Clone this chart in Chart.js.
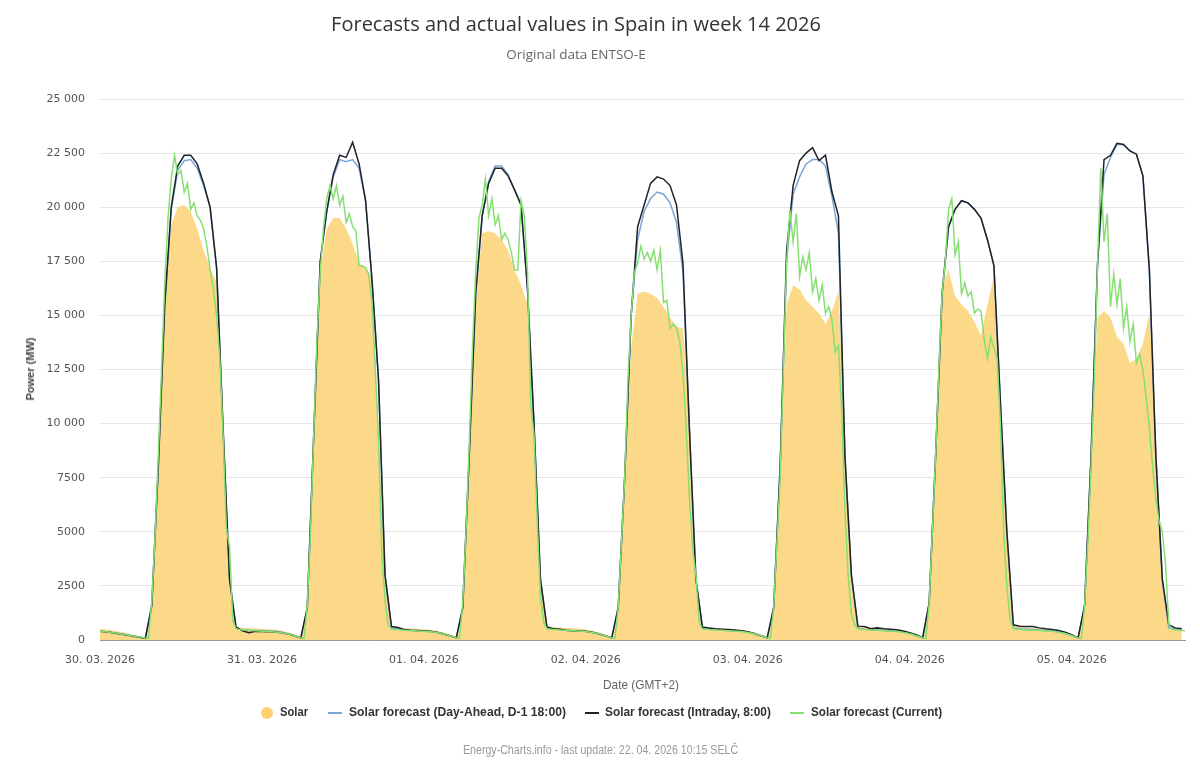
<!DOCTYPE html>
<html>
<head>
<meta charset="utf-8">
<title>Forecasts and actual values in Spain in week 14 2026</title>
<script src="https://cdn.jsdelivr.net/npm/chart.js@4.4.1/dist/chart.umd.min.js"></script>
<style>
  html, body { margin: 0; padding: 0; background: #fff; }
  #wrap { position: relative; width: 1200px; height: 766px; overflow: hidden; }
  #chart { position: absolute; left: 0; top: 0; }
  .txt { position: absolute; white-space: nowrap; }
  #title { left: 576px; top: 10px; transform: translateX(-50%); font: 20px "Open Sans", sans-serif; color: #333; }
  #subtitle { left: 576px; top: 45px; transform: translateX(-50%); font: 13.5px "Open Sans", sans-serif; color: #666; }
  #ytitle { left: 30px; top: 369px; transform: translate(-50%, -50%) rotate(-90deg); font: bold 11px "Liberation Sans", sans-serif; color: #444; }
  #xtitle { left: 603px; top: 677px; font: 13px "Liberation Sans", sans-serif; color: #666; transform-origin: 0 0; }
  .leg { position: absolute; top: 705px; height: 16px; line-height: 16px; font: bold 12.5px "Liberation Sans", sans-serif; color: #333; white-space: nowrap; transform-origin: 0 0; }
  .dot { position: absolute; top: 707px; width: 12px; height: 12px; border-radius: 6px; }
  .bar { position: absolute; top: 712px; width: 14px; height: 2px; }
  #credits { left: 463px; top: 743px; font: 12px "Liberation Sans", sans-serif; color: #999; transform-origin: 0 0; }
</style>
</head>
<body>
<div id="wrap">
  <canvas id="chart" width="1200" height="766"></canvas>
  <div class="txt" id="title">Forecasts and actual values in Spain in week 14 2026</div>
  <div class="txt" id="subtitle">Original data ENTSO-E</div>
  <div class="txt" id="ytitle">Power (MW)</div>
  <div class="txt fit" id="xtitle" data-w="76">Date (GMT+2)</div>

  <div class="dot" style="left:261px;background:#fcd26f"></div>
  <div class="leg fit" style="left:280px" data-w="28">Solar</div>
  <div class="bar" style="left:328px;background:#7aa6d8"></div>
  <div class="leg fit" style="left:349px" data-w="217">Solar forecast (Day-Ahead, D-1 18:00)</div>
  <div class="bar" style="left:585px;background:#1f2328"></div>
  <div class="leg fit" style="left:605px" data-w="166">Solar forecast (Intraday, 8:00)</div>
  <div class="bar" style="left:790px;background:#86df72"></div>
  <div class="leg fit" style="left:811px" data-w="131">Solar forecast (Current)</div>

  <div class="txt fit" id="credits" data-w="275">Energy-Charts.info - last update: 22. 04. 2026 10:15 SELČ</div>
</div>
<script>
// x positions are hours from 30.03.2026 00:00 (GMT+2)
const dayLabels = ['30. 03. 2026', '31. 03. 2026', '01. 04. 2026', '02. 04. 2026', '03. 04. 2026', '04. 04. 2026', '05. 04. 2026'];
const tickHours = [0, 25, 50, 75, 100, 125, 150];

// actual solar generation, hourly (MW)
const solar = [
  500,490,440,380,320,250,180,100, 1600,8000,16500,19200,20000,20100,19800,19000,18000,17200,16500,10000,2800,600,560,540,
  530,520,500,480,440,360,260,120, 1500,9000,17000,19000,19500,19500,19000,18300,17400,17200,16700,9500,2800,580,550,540,
  530,520,500,470,430,350,250,120, 1500,8500,15500,18800,18900,18800,18500,18000,17100,16400,15500,10000,3000,620,600,580,
  560,540,520,480,430,350,250,120, 1500,7000,13500,16000,16100,16000,15800,15400,14900,14500,14400,10500,2800,600,560,540,
  530,520,500,470,420,350,250,120, 1500,7500,15500,16400,16200,15700,15400,15100,14600,15200,16100,9500,3000,620,600,580,
  560,540,520,490,440,360,260,130, 1700,8500,16300,17100,15900,15500,15200,14700,14100,15500,16800,11000,5000,700,600,580,
  560,540,520,490,440,360,260,130, 1600,8000,14900,15200,14900,14000,13700,12800,13000,13700,15100,9500,2800,620,560,540
];

// day-ahead forecast (D-1 18:00), hourly
const dayAhead = [
  390,370,330,280,230,180,130,80, 1600,8000,15500,19900,21700,22150,22200,21800,21000,20000,17200,9800,2800,540,470,450,
  440,430,420,400,360,290,200,100, 1500,9500,17500,19800,21400,22200,22100,22200,21800,20300,16600,12000,3000,560,520,480,
  440,430,410,390,350,280,190,100, 1500,8500,16000,19600,21200,21900,21900,21500,20800,20100,16200,10000,2800,540,500,480,
  440,420,410,390,350,280,190,100, 1500,7500,15000,18500,19800,20400,20700,20600,20200,19300,17000,9700,2800,540,500,480,
  460,440,430,410,370,300,200,100, 1500,8000,17500,20600,21400,22000,22200,22200,21900,20500,18800,8500,3000,540,500,480,
  460,440,430,410,370,300,200,100, 1700,8500,16000,19100,19900,20300,20200,19900,19500,18500,17300,11000,5000,560,520,500,
  480,460,440,420,380,300,200,100, 1600,8500,17400,21500,22300,22900,22900,22600,22450,21450,17100,8500,2800,560,520,500
];

// intraday forecast (8:00), hourly
const intraday = [
  400,380,340,290,240,190,140,80, 1600,8000,15500,20000,21900,22400,22400,22000,21100,20000,17200,9800,2800,600,420,340,
  400,390,380,370,340,280,200,100, 1500,9500,17500,19800,21500,22400,22300,23000,22000,20300,16600,12000,3000,620,580,480,
  450,440,420,400,360,290,200,100, 1500,8500,16000,19600,21100,21800,21800,21450,20800,20100,16200,10000,2800,600,520,500,
  450,430,420,400,360,290,200,100, 1500,7500,15000,19100,20100,21100,21400,21300,21000,20100,17400,9700,2800,600,560,520,
  500,480,460,430,380,300,200,100, 1500,8000,18000,21000,22150,22500,22750,22150,22400,20700,19600,8500,3000,640,620,520,
  560,520,500,470,420,340,240,110, 1700,8500,16000,19100,19900,20300,20200,19900,19500,18500,17300,11000,5000,700,640,620,
  620,560,520,490,440,360,250,110, 1600,8500,17400,22200,22400,22950,22900,22600,22450,21450,17100,8500,2800,700,560,520
];

// current forecast, half-hourly
const current = [
  400,390,380,360,340,320,300,270,250,220,200,170,150,120,90,70,
  1800,4800,8500,12500,16500,19500,21300,22400,21500,21700,20700,21100,19900,20200,19600,19400,19000,18200,17100,16200,15000,13000,9500,5200,4300,900,
  520,480,470,460,450,440,
  430,420,410,400,390,380,370,360,340,310,280,240,200,150,100,70,
  1600,5000,9500,14000,17000,19000,20400,21000,20400,21000,20100,20500,19300,19700,19100,18900,17300,17300,17200,16900,15500,12500,9300,4000,1800,700,
  500,480,470,460,450,440,
  440,430,420,410,400,390,380,370,350,320,290,250,200,150,100,70,
  1700,5000,9000,13500,17000,19500,20100,21300,19600,20400,19200,19600,18500,18800,18500,17900,17100,17100,20300,19600,17000,10800,9500,5500,2000,800,
  520,500,480,470,460,450,
  450,440,430,420,410,400,390,370,350,320,290,250,200,150,100,70,
  1500,4500,7500,12000,15000,17000,17400,18200,17600,17900,17500,18000,17100,18000,15600,15700,14400,14600,14400,13800,12300,9700,6500,4200,3000,800,
  520,500,480,470,460,450,
  450,440,430,420,410,400,390,370,350,320,290,250,200,150,100,70,
  1500,4500,7500,12500,17400,19900,18400,19700,16800,17700,17100,17900,16100,16700,15700,16400,15100,15400,14800,13300,13600,10500,6000,3000,1200,700,
  520,500,480,470,460,450,
  450,440,430,420,410,400,390,370,350,320,290,250,200,150,100,70,
  1700,5000,8500,12500,16000,17500,19900,20400,17800,18400,16000,16500,15900,16100,15100,15300,15200,13900,13000,14000,13500,13000,10000,5000,2500,900,
  540,500,480,470,460,450,
  460,450,440,430,420,410,400,380,360,330,300,260,210,160,110,70,
  1600,4500,8000,12000,17400,21800,18400,19700,15400,16900,15500,16700,14400,15400,13800,14600,12800,13200,12500,11200,9800,8000,6500,5500,5000,3500,
  700,480,460,450,440,430
];

// squeeze narrow-font texts to the widths they have in the original
document.querySelectorAll('.fit').forEach(el => {
  const w = el.getBoundingClientRect().width;
  const target = Number(el.dataset.w);
  if (w > 0) el.style.transform = 'scaleX(' + (target / w).toFixed(3) + ')';
});

const toPoints = (arr, step) => arr.map((v, i) => ({ x: i * step, y: v }));

function formatPower(v) {
  if (v >= 10000) return String(v).replace(/\B(?=(\d{3})+(?!\d))/g, ' ');
  return String(v);
}

new Chart(document.getElementById('chart'), {
  type: 'line',
  data: {
    datasets: [
      {
        label: 'Solar',
        data: toPoints(solar, 1),
        fill: 'origin',
        backgroundColor: 'rgba(252, 210, 115, 0.85)',
        borderWidth: 0,
        pointRadius: 0,
        order: 3
      },
      {
        label: 'Solar forecast (Day-Ahead, D-1 18:00)',
        data: toPoints(dayAhead, 1),
        borderColor: '#7aa6d8',
        borderWidth: 1.5,
        pointRadius: 0,
        fill: false,
        order: 2
      },
      {
        label: 'Solar forecast (Intraday, 8:00)',
        data: toPoints(intraday, 1),
        borderColor: '#1f2328',
        borderWidth: 1.5,
        pointRadius: 0,
        fill: false,
        order: 1
      },
      {
        label: 'Solar forecast (Current)',
        data: toPoints(current, 0.5),
        borderColor: '#86df72',
        borderWidth: 1.5,
        pointRadius: 0,
        fill: false,
        order: 0
      }
    ]
  },
  options: {
    responsive: false,
    animation: false,
    layout: { padding: { left: 0, right: 15, top: 99, bottom: 86 } },
    plugins: {
      legend: { display: false },
      tooltip: { enabled: false }
    },
    scales: {
      x: {
        type: 'linear',
        min: 0,
        max: 167.5,
        grid: { display: false, drawTicks: false },
        border: { display: true, color: '#999999', width: 1 },
        afterBuildTicks: (scale) => { scale.ticks = tickHours.map(v => ({ value: v })); },
        afterFit: (scale) => { scale.height = 40; },
        ticks: {
          autoSkip: false,
          maxRotation: 0,
          padding: 14,
          color: '#555',
          font: { family: 'DejaVu Sans', size: 11 },
          callback: (v) => dayLabels[Math.floor(v / 24)]
        }
      },
      y: {
        min: 0,
        max: 25000,
        afterFit: (scale) => { scale.width = 100; },
        grid: { color: '#e6e6e6', drawTicks: false },
        border: { display: false },
        ticks: {
          stepSize: 2500,
          padding: 15,
          color: '#555',
          font: { family: 'DejaVu Sans', size: 11 },
          callback: (v) => formatPower(v)
        }
      }
    }
  }
});
</script>
</body>
</html>
